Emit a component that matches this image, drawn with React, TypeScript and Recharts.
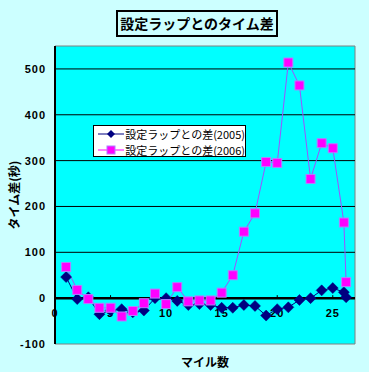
import React from 'react';
import { LineChart, Line, XAxis, YAxis, ReferenceLine, ReferenceArea, ReferenceDot } from 'recharts';

// mile markers (26.2 = finish)
const miles = [1, 2, 3, 4, 5, 6, 7, 8, 9, 10, 11, 12, 13, 14, 15, 16, 17, 18, 19, 20, 21, 22, 23, 24, 25, 26, 26.2];
// difference from planned lap (sec)
const diff2005 = [46, -2, 2, -35, -27, -24, -31, -27, 0, 0, -6, -15, -13, -15, -21, -21, -15, -17, -38, -24, -20, -4, 0, 17, 22, 13, 2];
const diff2006 = [68, 18, -2, -21, -21, -40, -28, -11, 10, -13, 24, -7, -5, -5, 12, 50, 145, 185, 297, 295, 514, 464, 260, 338, 327, 165, 35];

const yTicks = [-100, 0, 100, 200, 300, 400, 500];
const gridValues = [100, 200, 300, 400, 500];
const xTicks = [0, 5, 10, 15, 20, 25];

const seriesNames = ['設定ラップとの差(2005)', '設定ラップとの差(2006)'];

const data = miles.map((m, i) => ({ mile: m, d2005: diff2005[i], d2006: diff2006[i] }));

const JP = '"Noto Sans CJK JP", "Liberation Sans", sans-serif';
const NUM = '"Liberation Sans", Arial, sans-serif';

const BLUE = '#000080';
const PINK = '#ff00ff';
const PINK_LINE = '#a050ff';

const Diamond = (props: any) => {
  const { cx, cy, index } = props;
  if (cx == null || cy == null) return <g key={`d-${index}`} />;
  const r = 5.5;
  return (
    <path
      key={`d-${index}`}
      d={`M${cx},${cy - r}L${cx + r},${cy}L${cx},${cy + r}L${cx - r},${cy}Z`}
      fill={BLUE}
      stroke={BLUE}
      strokeWidth={0.5}
    />
  );
};

const Square = (props: any) => {
  const { cx, cy, index } = props;
  if (cx == null || cy == null) return <g key={`s-${index}`} />;
  return (
    <rect key={`s-${index}`} x={cx - 4.5} y={cy - 4.5} width={9} height={9} fill={PINK} stroke="#b080ff" strokeWidth={1} />
  );
};

// tick mark + label hanging off the zero line
const makeTick = (t: number) => (props: any) => {
  const { cx, cy } = props;
  return (
    <g>
      {t !== 0 && <line x1={cx} y1={cy - 3} x2={cx} y2={cy} stroke="#000" strokeWidth={1} />}
      <text x={cx} y={cy + 19} textAnchor="middle" fontSize={11} fontWeight="bold" fontFamily={NUM} fill="#000" letterSpacing={1}>
        {t}
      </text>
    </g>
  );
};

const YLabel = (props: any) => {
  const { viewBox } = props;
  const x = 13;
  const y = viewBox.y + viewBox.height / 2;
  return (
    <text x={x} y={y} transform={`rotate(-90, ${x}, ${y})`} textAnchor="middle" dominantBaseline="central" fontSize={12} fontWeight="bold" fontFamily={JP} fill="#000">
      タイム差(秒)
    </text>
  );
};

const LegendRow = ({ name, color, lineColor, square }: { name: string; color: string; lineColor: string; square: boolean }) => (
  <div style={{ display: 'flex', alignItems: 'center', height: 16 }}>
    <svg width={30} height={12} style={{ marginLeft: 3 }}>
      <line x1={1} y1={6} x2={27} y2={6} stroke={lineColor} strokeWidth={1} />
      {square ? (
        <rect x={10} y={2} width={8} height={8} fill={color} stroke="#b080ff" />
      ) : (
        <path d="M14,2L18,6L14,10L10,6Z" fill={color} />
      )}
    </svg>
    <span style={{ fontSize: 11, fontFamily: JP, color: '#000', whiteSpace: 'nowrap', marginLeft: 1 }}>{name}</span>
  </div>
);

export default function App() {
  return (
    <div style={{ position: 'absolute', left: 0, top: 0, width: 369, height: 372, background: '#ccffff', overflow: 'hidden' }}>
      <div
        style={{
          position: 'absolute',
          left: 116,
          top: 10,
          width: 158,
          height: 23,
          border: '2px solid #000',
          background: '#ccffff',
          fontFamily: JP,
          fontWeight: 'bold',
          fontSize: 14,
          lineHeight: '23px',
          textAlign: 'center',
          color: '#000',
          zIndex: 2,
        }}
      >
        設定ラップとのタイム差
      </div>
      <LineChart width={369} height={372} data={data} margin={{ top: 46, right: 14, left: 0, bottom: 0 }}>
        <XAxis
          dataKey="mile"
          type="number"
          domain={[0, 27]}
          ticks={xTicks}
          tick={false}
          axisLine={false}
          tickLine={false}
          height={28}
          label={{ value: 'マイル数', position: 'insideBottom', offset: 5, fontSize: 12, fontWeight: 'bold', fontFamily: JP, fill: '#000' }}
        />
        <YAxis
          type="number"
          domain={[-100, 550]}
          ticks={yTicks}
          width={55}
          axisLine={{ stroke: '#000', strokeWidth: 2 }}
          tickLine={false}
          tickSize={0}
          tickMargin={9}
          tick={{ fontSize: 11, fontWeight: 'bold', fontFamily: NUM, fill: '#000', letterSpacing: 1 }}
          label={<YLabel />}
          allowDataOverflow
        />
        <ReferenceArea x1={0} x2={27} y1={-100} y2={550} fill="#00ffff" fillOpacity={1} stroke="#808080" strokeWidth={1} />
        {gridValues.map((v) => (
          <ReferenceLine key={v} y={v} stroke="#000" strokeWidth={1} />
        ))}
        <ReferenceLine y={0} stroke="#000" strokeWidth={2.5} />
        {xTicks.map((t) => (
          <ReferenceDot key={`t${t}`} x={t} y={0} r={0} shape={makeTick(t)} />
        ))}
        <Line
          type="linear"
          dataKey="d2005"
          stroke={BLUE}
          strokeWidth={1}
          dot={Diamond}
          activeDot={false}
          isAnimationActive={false}
        />
        <Line
          type="linear"
          dataKey="d2006"
          stroke={PINK_LINE}
          strokeWidth={1}
          dot={Square}
          activeDot={false}
          isAnimationActive={false}
        />
      </LineChart>
      <div
        style={{
          position: 'absolute',
          left: 93,
          top: 125,
          width: 151,
          height: 30,
          border: '1px solid #000',
          background: '#fff',
          zIndex: 2,
        }}
      >
        <LegendRow name={seriesNames[0]} color={BLUE} lineColor={BLUE} square={false} />
        <LegendRow name={seriesNames[1]} color={PINK} lineColor={PINK} square />
      </div>
    </div>
  );
}
